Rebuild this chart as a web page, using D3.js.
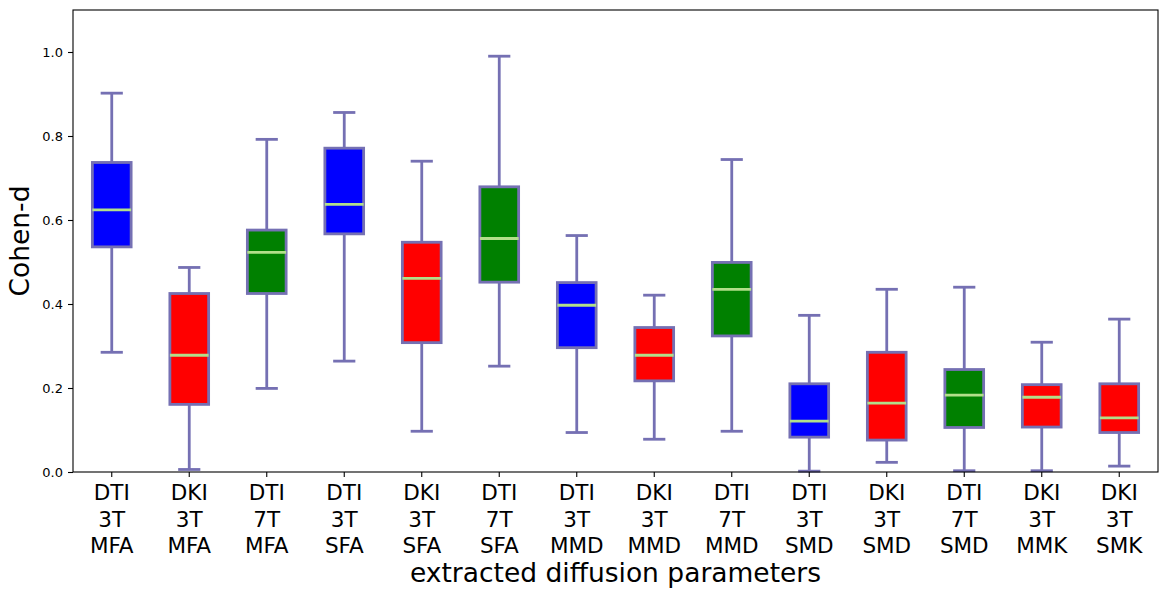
<!DOCTYPE html>
<html>
<head>
<meta charset="utf-8">
<script src="https://cdn.jsdelivr.net/npm/d3@7"></script>
<style>
  body { margin: 0; background: #fff; }
  text { font-family: "DejaVu Sans", sans-serif; fill: #000; }
</style>
</head>
<body>
<svg id="chart" width="1168" height="599"></svg>
<script>
// box statistics
let categories = ['DTI 3T MFA', 'DKI 3T MFA', 'DTI 7T MFA', 'DTI 3T SFA', 'DKI 3T SFA', 'DTI 7T SFA',
                  'DTI 3T MMD', 'DKI 3T MMD', 'DTI 7T MMD', 'DTI 3T SMD', 'DKI 3T SMD', 'DTI 7T SMD',
                  'DKI 3T MMK', 'DKI 3T SMK'];
let whiskerLow  = [0.285, 0.006, 0.199, 0.264, 0.097, 0.252, 0.094, 0.078, 0.097, 0.002, 0.023, 0.003, 0.003, 0.014];
let q1          = [0.536, 0.161, 0.425, 0.567, 0.308, 0.452, 0.296, 0.217, 0.324, 0.083, 0.076, 0.106, 0.107, 0.094];
let median      = [0.624, 0.278, 0.523, 0.637, 0.461, 0.556, 0.397, 0.278, 0.435, 0.121, 0.164, 0.183, 0.178, 0.129];
let q3          = [0.737, 0.425, 0.576, 0.771, 0.547, 0.679, 0.451, 0.344, 0.499, 0.210, 0.285, 0.244, 0.208, 0.210];
let whiskerHigh = [0.902, 0.487, 0.792, 0.856, 0.740, 0.990, 0.563, 0.421, 0.744, 0.373, 0.435, 0.440, 0.309, 0.364];
let yTicks = [0, 0.2, 0.4, 0.6, 0.8, 1.0];

let boxData = categories.map((c, i) => ({
    label: c, lo: whiskerLow[i], q1: q1[i], med: median[i], q3: q3[i], hi: whiskerHigh[i]
}));

let fillFor = (label) => {
    if (label.startsWith('DKI')) return '#ff0000';
    if (label.indexOf('7T') >= 0) return '#008000';
    return '#0000ff';
}

let mLeft = 73, mRight = 1158, mTop = 10, mBottom = 472,
    edge = '#7570b3', medColor = '#b2df8a', lw = 2.8;

let svg = d3.select('#chart');

let x = d3.scaleBand().domain(categories).range([mLeft, mRight]).padding(0),
    y = d3.scaleLinear().domain([0, 1.1]).range([mBottom, mTop]);

let bw = x.bandwidth() * 0.5,
    cw = x.bandwidth() * 0.25,
    cx = (d) => x(d.label) + x.bandwidth() / 2;

let g = svg.append('g');

// whiskers
g.selectAll('.whiskerHi')
.data(boxData)
.enter()
.append('line')
.attr('x1', cx).attr('x2', cx)
.attr('y1', d => y(d.q3)).attr('y2', d => y(d.hi))
.attr('stroke', edge).attr('stroke-width', lw);

g.selectAll('.whiskerLo')
.data(boxData)
.enter()
.append('line')
.attr('x1', cx).attr('x2', cx)
.attr('y1', d => y(d.q1)).attr('y2', d => y(d.lo))
.attr('stroke', edge).attr('stroke-width', lw);

// caps
['hi', 'lo'].forEach(k => {
    g.selectAll('.cap' + k)
    .data(boxData)
    .enter()
    .append('line')
    .attr('x1', d => cx(d) - cw / 2).attr('x2', d => cx(d) + cw / 2)
    .attr('y1', d => y(d[k])).attr('y2', d => y(d[k]))
    .attr('stroke', edge).attr('stroke-width', lw)
    .attr('stroke-linecap', 'square');
});

// boxes
g.selectAll('rect.box')
.data(boxData)
.enter()
.append('rect')
.attr('class', 'box')
.attr('x', d => cx(d) - bw / 2)
.attr('width', bw)
.attr('y', d => y(d.q3))
.attr('height', d => y(d.q1) - y(d.q3))
.attr('fill', d => fillFor(d.label))
.attr('stroke', edge).attr('stroke-width', lw);

// medians
g.selectAll('.median')
.data(boxData)
.enter()
.append('line')
.attr('x1', d => cx(d) - bw / 2).attr('x2', d => cx(d) + bw / 2)
.attr('y1', d => y(d.med)).attr('y2', d => y(d.med))
.attr('stroke', medColor).attr('stroke-width', lw);

// frame
svg.append('rect')
.attr('x', mLeft).attr('y', mTop)
.attr('width', mRight - mLeft).attr('height', mBottom - mTop)
.attr('fill', 'none').attr('stroke', '#000').attr('stroke-width', 1.1);

// y axis
let yAxis = svg.append('g')
.attr('transform', 'translate(' + mLeft + ',0)')
.call(d3.axisLeft(y).tickValues(yTicks).tickFormat(d3.format('.1f')).tickSize(5).tickPadding(5));
yAxis.select('.domain').remove();
yAxis.selectAll('text').style('font-size', '13px').style('font-family', 'DejaVu Sans');
yAxis.selectAll('line').attr('stroke-width', 1.1);

// x axis
let xAxis = svg.append('g')
.attr('transform', 'translate(0,' + mBottom + ')')
.call(d3.axisBottom(x).tickSize(5).tickFormat(''));
xAxis.select('.domain').remove();
xAxis.selectAll('line').attr('stroke-width', 1.1);

xAxis.selectAll('.tick')
.append('text')
.attr('text-anchor', 'middle')
.style('font-size', '21.5px')
.style('font-family', 'DejaVu Sans')
.style('fill', '#000')
.each(function(d) {
    let parts = d.split(' ');
    d3.select(this).selectAll('tspan')
    .data(parts)
    .enter()
    .append('tspan')
    .attr('x', 0)
    .attr('y', (p, i) => 28 + i * 26.7)
    .text(p => p);
});

// axis labels
svg.append('text')
.attr('x', (mLeft + mRight) / 2).attr('y', 582)
.attr('text-anchor', 'middle')
.style('font-size', '26.5px')
.text('extracted diffusion parameters');

svg.append('text')
.attr('transform', 'translate(29,' + ((mTop + mBottom) / 2) + ') rotate(-90)')
.attr('text-anchor', 'middle')
.style('font-size', '26.5px')
.text('Cohen-d');
</script>
</body>
</html>
